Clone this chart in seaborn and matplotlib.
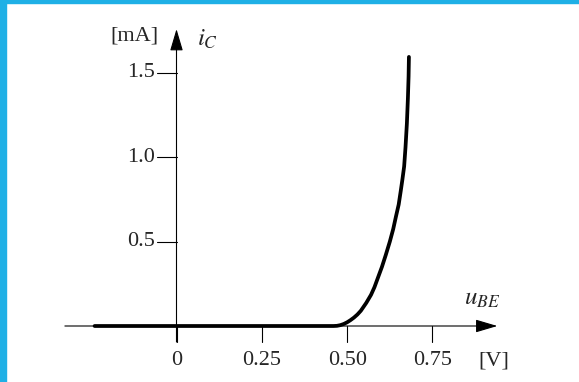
import numpy as np
import matplotlib
matplotlib.use("Agg")
import matplotlib.pyplot as plt
import pandas as pd
import seaborn as sns
from matplotlib.patches import Rectangle

u_be = [-0.24, 0.0, 0.25, 0.46, 0.47, 0.48, 0.49, 0.50, 0.51, 0.52, 0.53,
        0.54, 0.556, 0.57, 0.58, 0.59, 0.602, 0.613, 0.625, 0.635, 0.643,
        0.651, 0.657, 0.662, 0.667, 0.671, 0.675, 0.678, 0.680, 0.681]
i_c = [0.0, 0.0, 0.0, 0.0, 0.001, 0.005, 0.012, 0.022, 0.035, 0.05, 0.068,
       0.09, 0.137, 0.185, 0.23, 0.285, 0.351, 0.42, 0.5, 0.575, 0.649,
       0.72, 0.8, 0.87, 0.946, 1.06, 1.2, 1.35, 1.48, 1.595]

x_ticks = [0, 0.25, 0.50, 0.75]
x_labels = ["0", "0.25", "0.50", "0.75"]
y_ticks = [0.5, 1.0, 1.5]
y_labels = ["0.5", "1.0", "1.5"]

sns.set_style("white")
plt.rcParams['font.family'] = ['Liberation Serif', 'DejaVu Serif']
plt.rcParams['mathtext.fontset'] = 'stix'

W, H = 579, 382
fig = plt.figure(figsize=(W / 100, H / 100), dpi=100)
ax = fig.add_axes([0, 0, 1, 1])

# pixel -> Datenkoordinaten
x0, sx = 176.5, 341.3
y0, sy = 326, 168.7
ax.set_xlim(-x0 / sx, (W - x0) / sx)
ax.set_ylim((y0 - H) / sy, y0 / sy)
ax.axis('off')

df = pd.DataFrame({'u': u_be, 'i': i_c})
sns.lineplot(data=df, x='u', y='i', sort=False, estimator=None,
             color='black', lw=2.7, ax=ax, zorder=3)

arrow = dict(arrowstyle='-|>,head_length=1.35,head_width=0.4', lw=0.8,
             color='black', shrinkA=0, shrinkB=0, mutation_scale=10)
# x-Achse
ax.annotate('', xy=(0.94, 0), xytext=(-0.327, 0), arrowprops=arrow)
# y-Achse
ax.annotate('', xy=(0, 1.76), xytext=(0, -0.095), arrowprops=arrow)

for t, lab in zip(x_ticks, x_labels):
    ax.plot([t, t], [0, -0.095], color='black', lw=0.8)
    ax.text(t, -0.205, lab, ha='center', va='center', fontsize=16)
for t, lab in zip(y_ticks, y_labels):
    ax.plot([-0.057, 0], [t, t], color='black', lw=0.8)
    ax.text(-0.062, t, lab, ha='right', va='center', fontsize=16)

ax.text(0.93, -0.205, "[V]", ha='center', va='center', fontsize=16)
ax.text(0.843, 0.16, "$u_{BE}$", ha='left', va='center', fontsize=18)
ax.text(-0.052, 1.72, "[mA]", ha='right', va='center', fontsize=16)
ax.text(0.06, 1.70, "$i_C$", ha='left', va='center', fontsize=18)

# blauer Rahmen
blue = '#1fb0e6'
fig.patches.append(Rectangle((0, 0), 6 / W, 1, transform=fig.transFigure,
                             color=blue, zorder=10))
fig.patches.append(Rectangle((0, 1 - 3 / H), 1, 3 / H, transform=fig.transFigure,
                             color=blue, zorder=10))

fig.savefig('out.png', dpi=100)
